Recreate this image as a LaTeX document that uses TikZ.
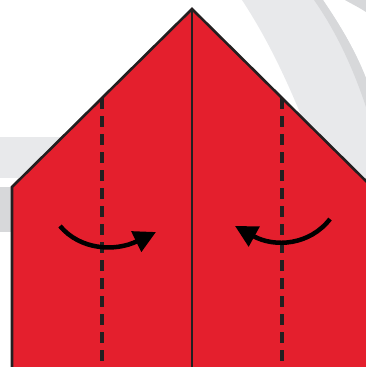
\documentclass[tikz,border=0pt]{standalone}
\usepackage{tikz}
\usetikzlibrary{arrows.meta, calc}
\definecolor{paperred}{RGB}{228,31,45}
\definecolor{inkline}{RGB}{35,31,32}
\definecolor{shadelight}{RGB}{232,233,235}
\definecolor{shadedark}{RGB}{215,216,218}

\begin{document}
\begin{tikzpicture}[x=1pt, y=-1pt,
    edge/.style={line width=2.6pt, draw=inkline, line join=miter},
    crease/.style={line width=1.8pt, draw=inkline},
    valley/.style={line width=3.2pt, draw=inkline, dash pattern=on 11pt off 7pt},
    turn/.style={line width=4.5pt, draw=black, -{Triangle[length=22pt,width=22pt]}}]
  \useasboundingbox (0,0) rectangle (366,367);
  \clip (0,0) rectangle (366,367);

  % background swooshes
  \fill[shadelight] (0,137) rectangle (100,178);
  \fill[shadedark] (0,187) rectangle (100,232);
  \fill[shadelight] (242,0) .. controls (265,35) and (285,75) .. (305,125) -- (330,200) -- (366,200) -- (366,0) -- cycle;
  \fill[white] (323,0) .. controls (340,25) and (355,50) .. (366,78) -- (366,0) -- cycle;
  \fill[shadedark] (314,0) .. controls (335,30) and (352,65) .. (366,107) -- (366,78) .. controls (355,50) and (340,25) .. (323,0) -- cycle;
  \fill[shadedark] (345,0) .. controls (352,4) and (360,8) .. (366,12) -- (366,0) -- cycle;

  % paper
  \coordinate (apex) at (192,9);
  \coordinate (lcorner) at (12,187);
  \coordinate (rcorner) at (372,187);
  \coordinate (lfoot) at (12,380);
  \coordinate (rfoot) at (372,380);
  \filldraw[edge, fill=paperred] (lfoot) -- (lcorner) -- (apex) -- (rcorner) -- (rfoot);

  % creases
  \coordinate (mfoot) at (192,380);
  \draw[crease] (apex) -- (mfoot);
  \coordinate (ltop) at ($(lcorner)!0.5!(apex)$);
  \coordinate (rtop) at ($(rcorner)!0.5!(apex)$);
  \draw[valley] (ltop) -- (ltop |- mfoot);
  \draw[valley] (rtop) -- (rtop |- mfoot);

  % fold arrows
  \coordinate (ltail) at (60,226);
  \coordinate (lhead) at (156,232);
  \coordinate (rtail) at (330,219);
  \coordinate (rhead) at (235,226);
  \draw[turn] (ltail) .. controls (80,250) and (115,252) .. (lhead);
  \draw[turn] (rtail) .. controls (310,245) and (275,248) .. (rhead);
\end{tikzpicture}
\end{document}
